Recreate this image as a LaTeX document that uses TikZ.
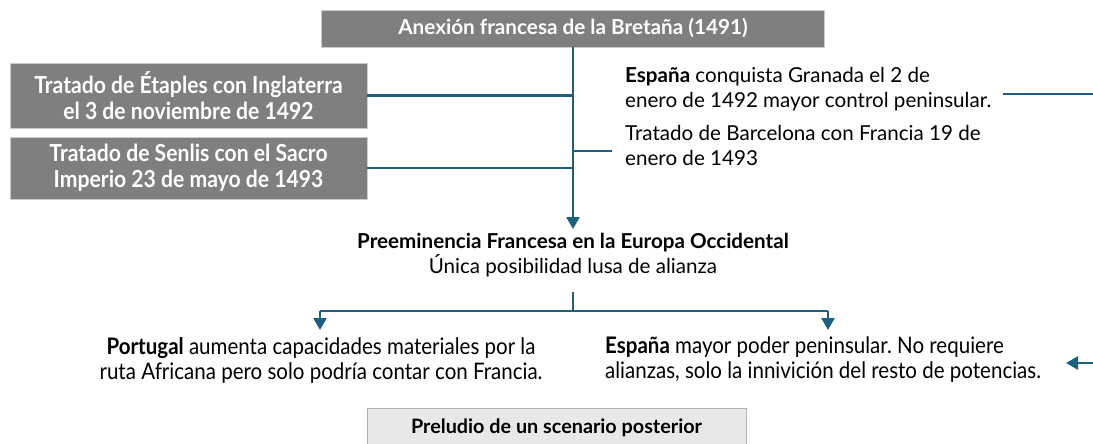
\documentclass[tikz,border=0pt]{standalone}
\usepackage{fontspec}
\setmainfont{Lato}
\newfontfamily\narrowfont[FakeStretch=0.9]{Lato}
\usetikzlibrary{arrows.meta,positioning}
\frenchspacing
\definecolor{linkblue}{RGB}{28,96,128}
\definecolor{boxgray}{RGB}{127,127,127}
\definecolor{lightgray}{RGB}{232,232,232}
\tikzset{
  darkbox/.style={fill=boxgray, draw=gray!40, text=white, font=\bfseries\fontsize{20.7}{24}\selectfont, inner sep=0pt, align=center},
  sidebox/.style={darkbox, font=\narrowfont\bfseries\fontsize{23.5}{26}\selectfont, minimum width=357pt},
  plaintext/.style={font=\fontsize{20.6}{25}\selectfont, inner sep=0pt},
  narrowtext/.style={font=\narrowfont\fontsize{22.8}{25}\selectfont, inner sep=0pt},
  link/.style={draw=linkblue, line width=2.6pt},
  linkarrow/.style={link, -{Triangle[length=12pt,width=13pt]}}
}
\begin{document}
\begin{tikzpicture}[x=1pt,y=-1pt]
    \useasboundingbox (0,0) rectangle (1093,444);

    % boxes
    \node[darkbox, minimum width=503pt, minimum height=37pt] (anexion) at (573,28.5) {Anexión francesa de la Bretaña (1491)};
    \node[sidebox, minimum height=65pt] (etaples) at (188.5,95.5) {Tratado de Étaples con Inglaterra\\el 3 de noviembre de 1492};
    \node[sidebox, minimum height=62pt] (senlis) at (188.5,168) {Tratado de Senlis con el Sacro\\Imperio 23 de mayo de 1493};

    % right texts
    \node[plaintext, anchor=north west, align=left] (granada) at (625,67) {\textbf{España} conquista Granada el 2 de\\enero de 1492 mayor control peninsular.};
    \node[plaintext, anchor=north west, align=left] (barcelona) at (625,125) {Tratado de Barcelona con Francia 19 de\\enero de 1493};

    % center
    \node[plaintext, align=center, anchor=north] (preem) at (573,233) {\textbf{Preeminencia Francesa en la Europa Occidental}\\Única posibilidad lusa de alianza};

    % bottom
    \node[narrowtext, align=center, anchor=north] (portugal) at (321,337) {\textbf{Portugal} aumenta capacidades materiales por la\\ruta Africana pero solo podría contar con Francia.};
    \node[narrowtext, align=left, anchor=north west] (espana) at (605,337) {\textbf{España} mayor poder peninsular. No requiere\\alianzas, solo la innivición del resto de potencias.};
    \node[draw=gray!60, fill=lightgray, font=\bfseries\fontsize{19.8}{22}\selectfont, minimum width=379pt, minimum height=40pt, inner sep=0pt] (preludio) at (556.5,428) {Preludio de un scenario posterior};

    \coordinate (split) at (573,311);
    \coordinate (outa) at (1003,94);
    \coordinate (outb) at (1093,94);
    \coordinate (ina) at (1093,363);
    \coordinate (inb) at (1066,363);

    \draw[linkarrow, shorten >=4pt] (anexion.south) -- (preem.north);
    \draw[link] (etaples.east) -- (etaples.east -| anexion.south);
    \draw[link] (senlis.east) -- (senlis.east -| anexion.south);
    \draw[link] (anexion.south |- 0,151) -- (612,151);

    \draw[link] (573,292) -- (split);
    \draw[link] (split -| 320,0) -- (split -| 828,0);
    \draw[linkarrow, shorten >=7pt] (split -| 320,0) -- (320,337);
    \draw[linkarrow, shorten >=7pt] (split -| 828,0) -- (828,337);

    \draw[link] (outa) -- (outb);
    \draw[linkarrow] (ina) -- (inb);
\end{tikzpicture}
\end{document}
